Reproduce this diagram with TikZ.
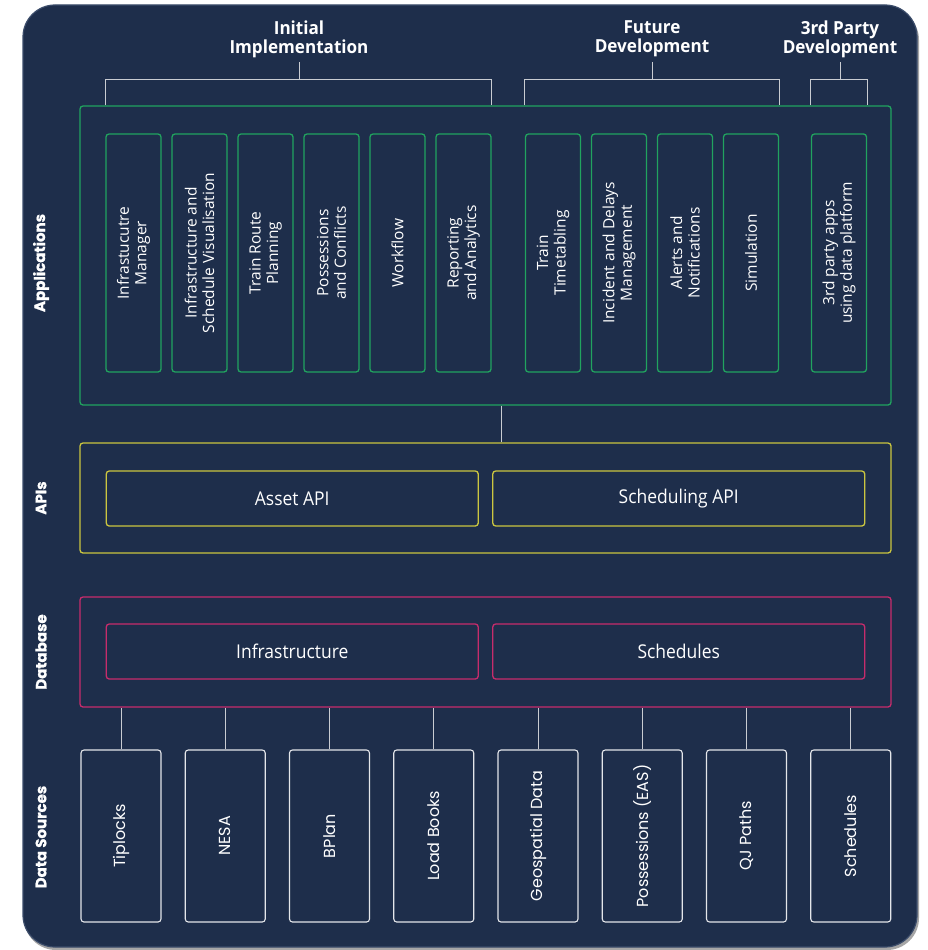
\documentclass[tikz,border=0pt]{standalone}
\usepackage{fontspec}
\setmainfont{Open Sans}
\newfontfamily\hdrfont{Open Sans}[FakeStretch=0.95]
\newfontfamily\sidefont{Poppins}[FakeBold=0.8]
\newfontfamily\dsfont{Poppins}
\newfontfamily\apifont{Open Sans}[FakeStretch=0.92]
\usetikzlibrary{calc}
\definecolor{navy}{HTML}{1E2E4B}
\definecolor{rim}{HTML}{3B4C6A}
\definecolor{appgreen}{HTML}{21A35F}
\definecolor{apiyellow}{HTML}{CBC640}
\definecolor{dbpink}{HTML}{C72C6C}
\definecolor{dswhite}{HTML}{E4E6EA}
\definecolor{linegray}{HTML}{C9CCD2}
\tikzset{
  groupbox/.style={draw, line width=1.3pt, rounded corners=3pt, inner sep=0pt},
  appbox/.style={draw=appgreen, line width=1.3pt, rounded corners=3pt, rotate=90,
    minimum width=238pt, minimum height=55pt, inner sep=0pt, text=white,
    align=center, font=\fontsize{15.5}{17.5}\selectfont},
  apibox/.style={draw=apiyellow, line width=1.3pt, rounded corners=3pt,
    minimum width=372pt, minimum height=55pt, inner sep=0pt, text=white,
    font=\apifont\fontsize{19}{21}\selectfont},
  dbbox/.style={apibox, draw=dbpink},
  dsbox/.style={draw=dswhite, line width=1.1pt, rounded corners=3pt, rotate=90,
    minimum width=172pt, minimum height=80pt, inner sep=0pt, text=white,
    font=\dsfont\fontsize{16}{18}\selectfont},
  sidelabel/.style={rotate=90, text=white, font=\sidefont\bfseries\fontsize{15}{17}\selectfont},
  header/.style={text=white, align=center, font=\hdrfont\bfseries\fontsize{18}{19}\selectfont},
  link/.style={draw=linegray, line width=0.9pt}
}
\begin{document}
\begin{tikzpicture}[x=1pt, y=-1pt]
\useasboundingbox (0,0) rectangle (927,950);
\fill[white] (0,0) rectangle (927,950);
% panel
\fill[black!35, rounded corners=32pt] (24,8) rectangle (919,950);
\path[fill=navy, draw=rim, line width=1.2pt, rounded corners=32pt] (23,5) rectangle (917,947);

% headers
\node[header] (h1) at (299,39) {Initial\\Implementation};
\node[header] (h2) at (652,39) {Future\\Development};
\node[header] (h3) at (840,39) {3rd Party\\Development};

% applications group
\node[groupbox, draw=appgreen, minimum width=811pt, minimum height=299pt] (apps) at (485.5,255.5) {};
\node[appbox] (a1) at (133.5,253) {Infrastucutre\\Manager};
\node[appbox] (a2) at (199.5,253) {Infrastructure and\\Schedule Visualisation};
\node[appbox] (a3) at (265.5,253) {Train Route\\Planning};
\node[appbox] (a4) at (331.5,253) {Possessions\\and Conflicts};
\node[appbox] (a5) at (397.5,253) {Workflow};
\node[appbox] (a6) at (463.5,253) {Reporting\\and Analytics};
\node[appbox] (f1) at (553,253) {Train\\Timetabling};
\node[appbox] (f2) at (619,253) {Incident and Delays\\Management};
\node[appbox] (f3) at (685,253) {Alerts and\\Notifications};
\node[appbox] (f4) at (751,253) {Simulation};
\node[appbox] (t1) at (839,253) {3rd party apps\\using data platform};

% brackets (rotated nodes: .north is the left side, .south the right side)
\coordinate (b1) at (299,79);
\coordinate (b2) at (652,79);
\coordinate (b3) at (840,79);
\coordinate (stemtop) at (0,62);
\draw[link] (h1.south |- stemtop) -- (b1);
\draw[link] (a1.north |- apps.north) -- (a1.north |- b1) -- (a6.south |- b1) -- (a6.south |- apps.north);
\draw[link] (h2.south |- stemtop) -- (b2);
\draw[link] (f1.north |- apps.north) -- (f1.north |- b2) -- (f4.south |- b2) -- (f4.south |- apps.north);
\draw[link] (h3.south |- stemtop) -- (b3);
\draw[link] (t1.north |- apps.north) -- (t1.north |- b3) -- (t1.south |- b3) -- (t1.south |- apps.north);

% APIs
\node[groupbox, draw=apiyellow, minimum width=811pt, minimum height=110pt] (apis) at (485.5,498) {};
\node[apibox] (asset) at (292.25,498.5) {Asset API};
\node[apibox] (sched) at (678.75,498.5) {Scheduling API};
\coordinate (cx) at (501,0);
\draw[link] (apps.south -| cx) -- (apis.north -| cx);

% Database
\node[groupbox, draw=dbpink, minimum width=811pt, minimum height=110pt] (db) at (485.5,652) {};
\node[dbbox] (infra) at (292.25,651.5) {Infrastructure};
\node[dbbox] (dsched) at (678.75,651.5) {Schedules};

% Data sources
\foreach \i/\t in {0/Tiplocks,1/NESA,2/BPlan,3/Load Books,4/Geospatial Data,5/Possessions (EAS),6/QJ Paths,7/Schedules}{
  \node[dsbox] (ds\i) at ({121+104.25*\i},836) {\t};
  \draw[link] (ds\i.east) -- (ds\i.east |- db.south);
}

% side labels
\node[sidelabel] (lapp) at (41,263) {Applications};
\node[sidelabel] (lapi) at (41,498) {APIs};
\node[sidelabel] (ldb) at (41,652) {Database};
\node[sidelabel] (lds) at (41,837) {Data Sources};
\end{tikzpicture}
\end{document}
